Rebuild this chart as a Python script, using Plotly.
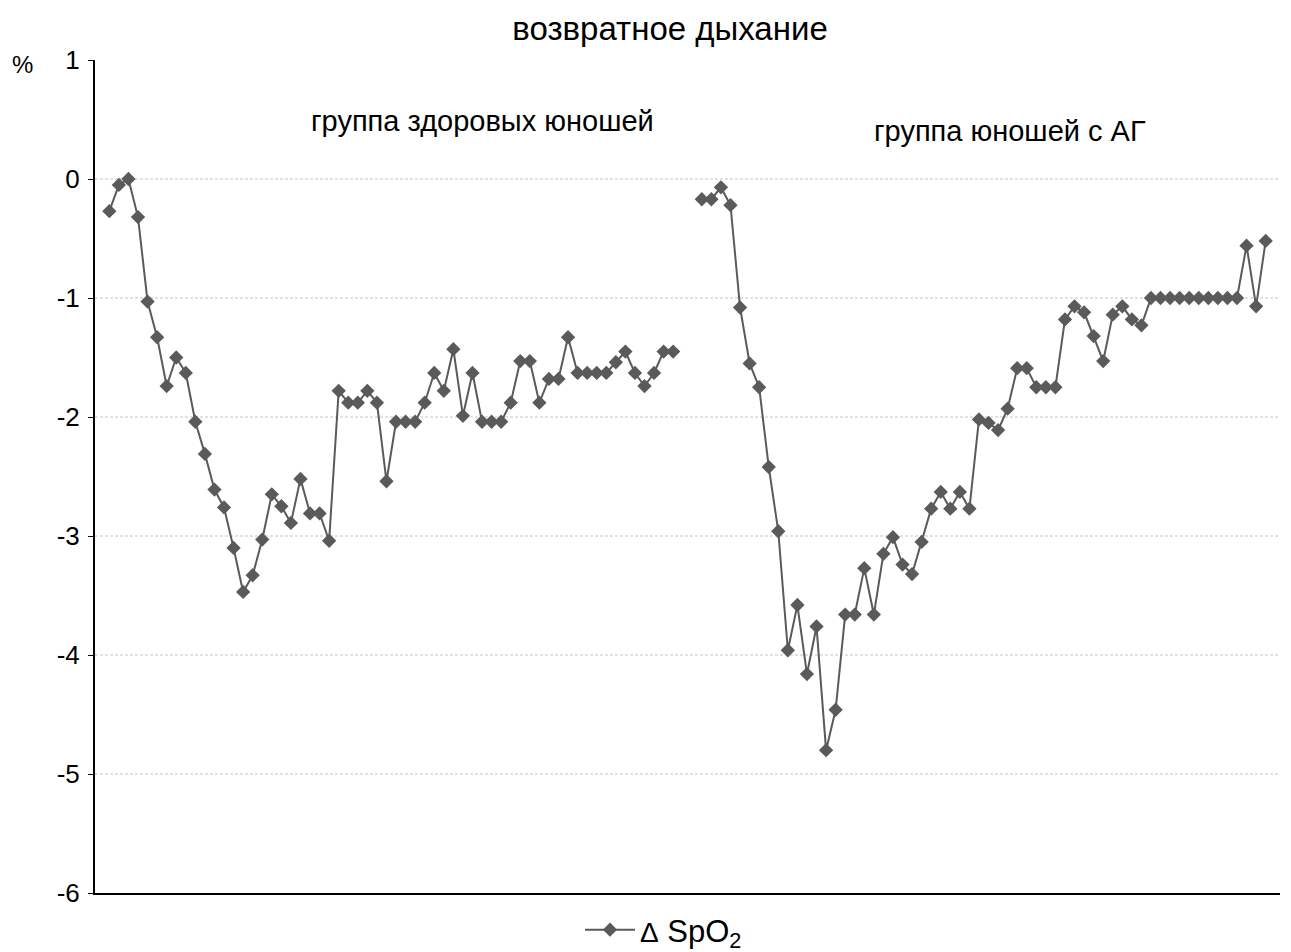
import plotly.graph_objects as go

# Change of SpO2 (%) during rebreathing, sampled at equal intervals
healthy = [-0.27, -0.05, 0.00, -0.32, -1.03, -1.33, -1.74, -1.50, -1.63, -2.04,
           -2.31, -2.61, -2.76, -3.10, -3.47, -3.33, -3.03, -2.65, -2.75, -2.89,
           -2.52, -2.81, -2.81, -3.04, -1.78, -1.88, -1.88, -1.78, -1.88, -2.54,
           -2.04, -2.04, -2.04, -1.88, -1.63, -1.78, -1.43, -1.99, -1.63, -2.04,
           -2.04, -2.04, -1.88, -1.53, -1.53, -1.88, -1.68, -1.68, -1.33, -1.63,
           -1.63, -1.63, -1.63, -1.54, -1.45, -1.63, -1.74, -1.63, -1.45, -1.45]

hypertensive = [-0.17, -0.17, -0.07, -0.22, -1.08, -1.55, -1.75, -2.42, -2.96, -3.96,
                -3.58, -4.16, -3.76, -4.80, -4.46, -3.66, -3.66, -3.27, -3.66, -3.15,
                -3.01, -3.24, -3.32, -3.05, -2.77, -2.63, -2.77, -2.63, -2.77, -2.02,
                -2.05, -2.11, -1.93, -1.59, -1.59, -1.75, -1.75, -1.75, -1.18, -1.07,
                -1.12, -1.32, -1.53, -1.14, -1.07, -1.18, -1.23, -1.00, -1.00, -1.00,
                -1.00, -1.00, -1.00, -1.00, -1.00, -1.00, -1.00, -0.56, -1.07, -0.52]

gap = [None, None]
series = healthy + gap + hypertensive
positions = list(range(1, len(series) + 1))

y_ticks = [1, 0, -1, -2, -3, -4, -5, -6]

title_text = "возвратное дыхание"
group_labels = ["группа здоровых юношей", "группа юношей с АГ"]
series_name = "<span style='font-size:28px'>Δ</span> SpO<sub>2</sub>"

color = "#5a5a5a"
font_family = "Liberation Sans, Arial, sans-serif"

fig = go.Figure()
fig.add_trace(go.Scatter(
    x=positions, y=series, mode="lines+markers", name=series_name,
    line=dict(color=color, width=2),
    marker=dict(symbol="diamond", size=11, color=color),
    connectgaps=False,
))

# Horizontal dashed gridlines for the interior ticks
for v in y_ticks[1:-1]:
    fig.add_shape(type="line", xref="paper", x0=0, x1=1, yref="y", y0=v, y1=v,
                  line=dict(color="#c4c4c4", width=1, dash="3px,2px"), layer="below")

fig.add_annotation(text=group_labels[0], xref="paper", yref="paper",
                   x=(482 - 95) / 1185, y=(893 - 121) / 833,
                   xanchor="center", yanchor="middle", showarrow=False,
                   font=dict(size=29, color="black", family=font_family))
fig.add_annotation(text=group_labels[1], xref="paper", yref="paper",
                   x=(1010 - 95) / 1185, y=(893 - 131) / 833,
                   xanchor="center", yanchor="middle", showarrow=False,
                   font=dict(size=29, color="black", family=font_family))
fig.add_annotation(text="%", xref="paper", yref="paper",
                   x=(22 - 95) / 1185, y=(893 - 64) / 833,
                   xanchor="center", yanchor="middle", showarrow=False,
                   font=dict(size=24, color="black", family=font_family))

fig.update_layout(
    width=1291, height=952,
    margin=dict(l=95, r=11, t=60, b=59, autoexpand=False),
    paper_bgcolor="white", plot_bgcolor="white",
    font=dict(family=font_family, size=26, color="black"),
    title=dict(text=title_text, x=670 / 1291, xanchor="center",
               y=1 - 28 / 952, yanchor="middle", yref="container",
               font=dict(size=33, family=font_family, color="black")),
    showlegend=True,
    legend=dict(orientation="h", x=(580 - 95) / 1185, xanchor="left",
                y=(893 - 930) / 833, yanchor="middle", itemwidth=50,
                font=dict(size=31, family=font_family),
                bgcolor="rgba(0,0,0,0)"),
    xaxis=dict(range=[-0.5, 123.5], showticklabels=False, ticks="",
               showgrid=False, zeroline=False, showline=True,
               linecolor="black", linewidth=2),
    yaxis=dict(range=[-6, 1], tickvals=y_ticks, ticktext=[str(t) for t in y_ticks],
               ticks="outside", ticklen=5, ticklabelstandoff=3,
               tickcolor="black", showgrid=False, zeroline=False,
               showline=True, linecolor="black", linewidth=2,
               tickfont=dict(size=26, family=font_family)),
)

fig.write_html("out.html")
